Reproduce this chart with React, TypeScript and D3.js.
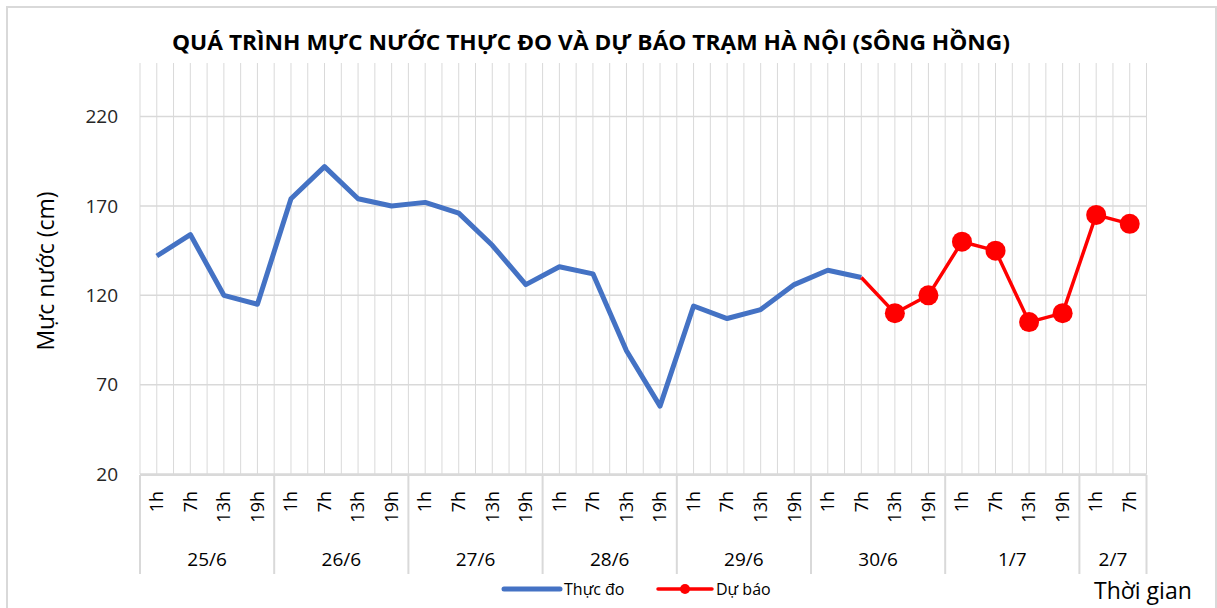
import React from "react";
import * as d3 from "d3";

const days = ["25/6", "26/6", "27/6", "28/6", "29/6", "30/6", "1/7", "2/7"];
const hoursPerDay = [
  ["1h", "7h", "13h", "19h"],
  ["1h", "7h", "13h", "19h"],
  ["1h", "7h", "13h", "19h"],
  ["1h", "7h", "13h", "19h"],
  ["1h", "7h", "13h", "19h"],
  ["1h", "7h", "13h", "19h"],
  ["1h", "7h", "13h", "19h"],
  ["1h", "7h"],
];
// Thực đo (observed), from 25/6 1h to 30/6 7h
const observed = [142, 154, 120, 115, 174, 192, 174, 170, 172, 166, 148, 126, 136, 132, 89, 58, 114, 107, 112, 126, 134, 130];
// Dự báo (forecast), from 30/6 7h (joins observed) to 2/7 7h
const forecastStart = 21;
const forecast = [130, 110, 120, 150, 145, 105, 110, 165, 160];
const yTicks = [20, 70, 120, 170, 220];

const W = 1217, H = 608;
const L = 140, R = 1146.5, T = 63, B = 474;
const FONT = "'Open Sans', 'Noto Sans', sans-serif";

export default function App() {
  const cats: { day: number; hour: string }[] = [];
  hoursPerDay.forEach((hs, di) => hs.forEach((h) => cats.push({ day: di, hour: h })));
  const idx = cats.map((_, i) => i);
  const x = d3.scaleBand<number>().domain(idx).range([L, R]).padding(0);
  const bw = x.bandwidth();
  const cx = (i: number) => (x(i) as number) + bw / 2;
  const y = d3.scaleLinear().domain([20, 250]).range([B, T]);

  const obsLine = d3.line<number>().x((_, i) => cx(i)).y((v) => y(v))(observed) || "";
  const fcLine = d3.line<number>().x((_, i) => cx(i + forecastStart)).y((v) => y(v))(forecast) || "";

  const vLines: number[] = [];
  for (let k = 0; k <= cats.length * 2; k++) vLines.push(L + (k * bw) / 2);

  const groups: { start: number; end: number; label: string }[] = [];
  let s = 0;
  hoursPerDay.forEach((hs, di) => {
    groups.push({ start: s, end: s + hs.length, label: days[di] });
    s += hs.length;
  });
  const bx = (i: number) => L + i * bw;

  return (
    <svg width={W} height={H} style={{ position: "absolute", left: 0, top: 0 }} fontFamily={FONT}>
      <rect x={0} y={0} width={W} height={H} fill="#fff" />
      <rect x={7} y={7} width={1209} height={640} fill="none" stroke="#d9d9d9" strokeWidth={2} />
      <text x={591} y={50} textAnchor="middle" fontSize={21} fontWeight="bold" fill="#000"
        textLength={838} lengthAdjust="spacingAndGlyphs">
        QUÁ TRÌNH MỰC NƯỚC THỰC ĐO VÀ DỰ BÁO TRẠM HÀ NỘI (SÔNG HỒNG)
      </text>
      {vLines.map((vx, k) => (
        <line key={"v" + k} x1={vx} x2={vx} y1={T} y2={B} stroke="#d9d9d9" strokeWidth={1} />
      ))}
      {yTicks.map((t) => (
        <line key={"h" + t} x1={L} x2={R} y1={y(t)} y2={y(t)} stroke="#d9d9d9" strokeWidth={1.5} />
      ))}
      {yTicks.map((t) => (
        <text key={"yt" + t} x={118} y={y(t)} dy="0.35em" textAnchor="end" fontSize={19} fill="#262626">
          {t}
        </text>
      ))}
      <text transform={`translate(46,271) rotate(-90)`} textAnchor="middle" dy="0.35em" fontSize={23} fill="#000">
        Mực nước (cm)
      </text>
      <line x1={L} x2={R} y1={B + 1} y2={B + 1} stroke="#d9d9d9" strokeWidth={2} />
      {groups.map((g, gi) => (
        <line key={"gs" + gi} x1={bx(g.start)} x2={bx(g.start)} y1={B + 1} y2={574} stroke="#d9d9d9" strokeWidth={2} />
      ))}
      <line x1={R} x2={R} y1={B + 1} y2={574} stroke="#d9d9d9" strokeWidth={2} />
      {cats.map((c, i) => (
        <text key={"hl" + i} transform={`translate(${cx(i)},491) rotate(-90)`} textAnchor="end" dy="0.35em"
          fontSize={18} fill="#000">
          {c.hour}
        </text>
      ))}
      {groups.map((g, gi) => (
        <text key={"gl" + gi} x={(bx(g.start) + bx(g.end)) / 2} y={566} textAnchor="middle" fontSize={19} fill="#000">
          {g.label}
        </text>
      ))}
      <path d={obsLine} fill="none" stroke="#4472c4" strokeWidth={5} strokeLinejoin="round" />
      <path d={fcLine} fill="none" stroke="#ff0000" strokeWidth={3.5} strokeLinejoin="round" />
      {forecast.map((v, i) =>
        i === 0 ? null : <circle key={"m" + i} cx={cx(i + forecastStart)} cy={y(v)} r={10} fill="#ff0000" />
      )}
      <line x1={504} x2={560} y1={589} y2={589} stroke="#4472c4" strokeWidth={5} strokeLinecap="round" />
      <text x={564} y={595} fontSize={16} fill="#000">Thực đo</text>
      <line x1={658} x2={712} y1={589} y2={589} stroke="#ff0000" strokeWidth={3.5} strokeLinecap="round" />
      <circle cx={685} cy={589} r={5} fill="#ff0000" />
      <text x={716} y={595} fontSize={16} fill="#000">Dự báo</text>
      <text x={1094} y={599} fontSize={23} fill="#000">Thời gian</text>
    </svg>
  );
}
